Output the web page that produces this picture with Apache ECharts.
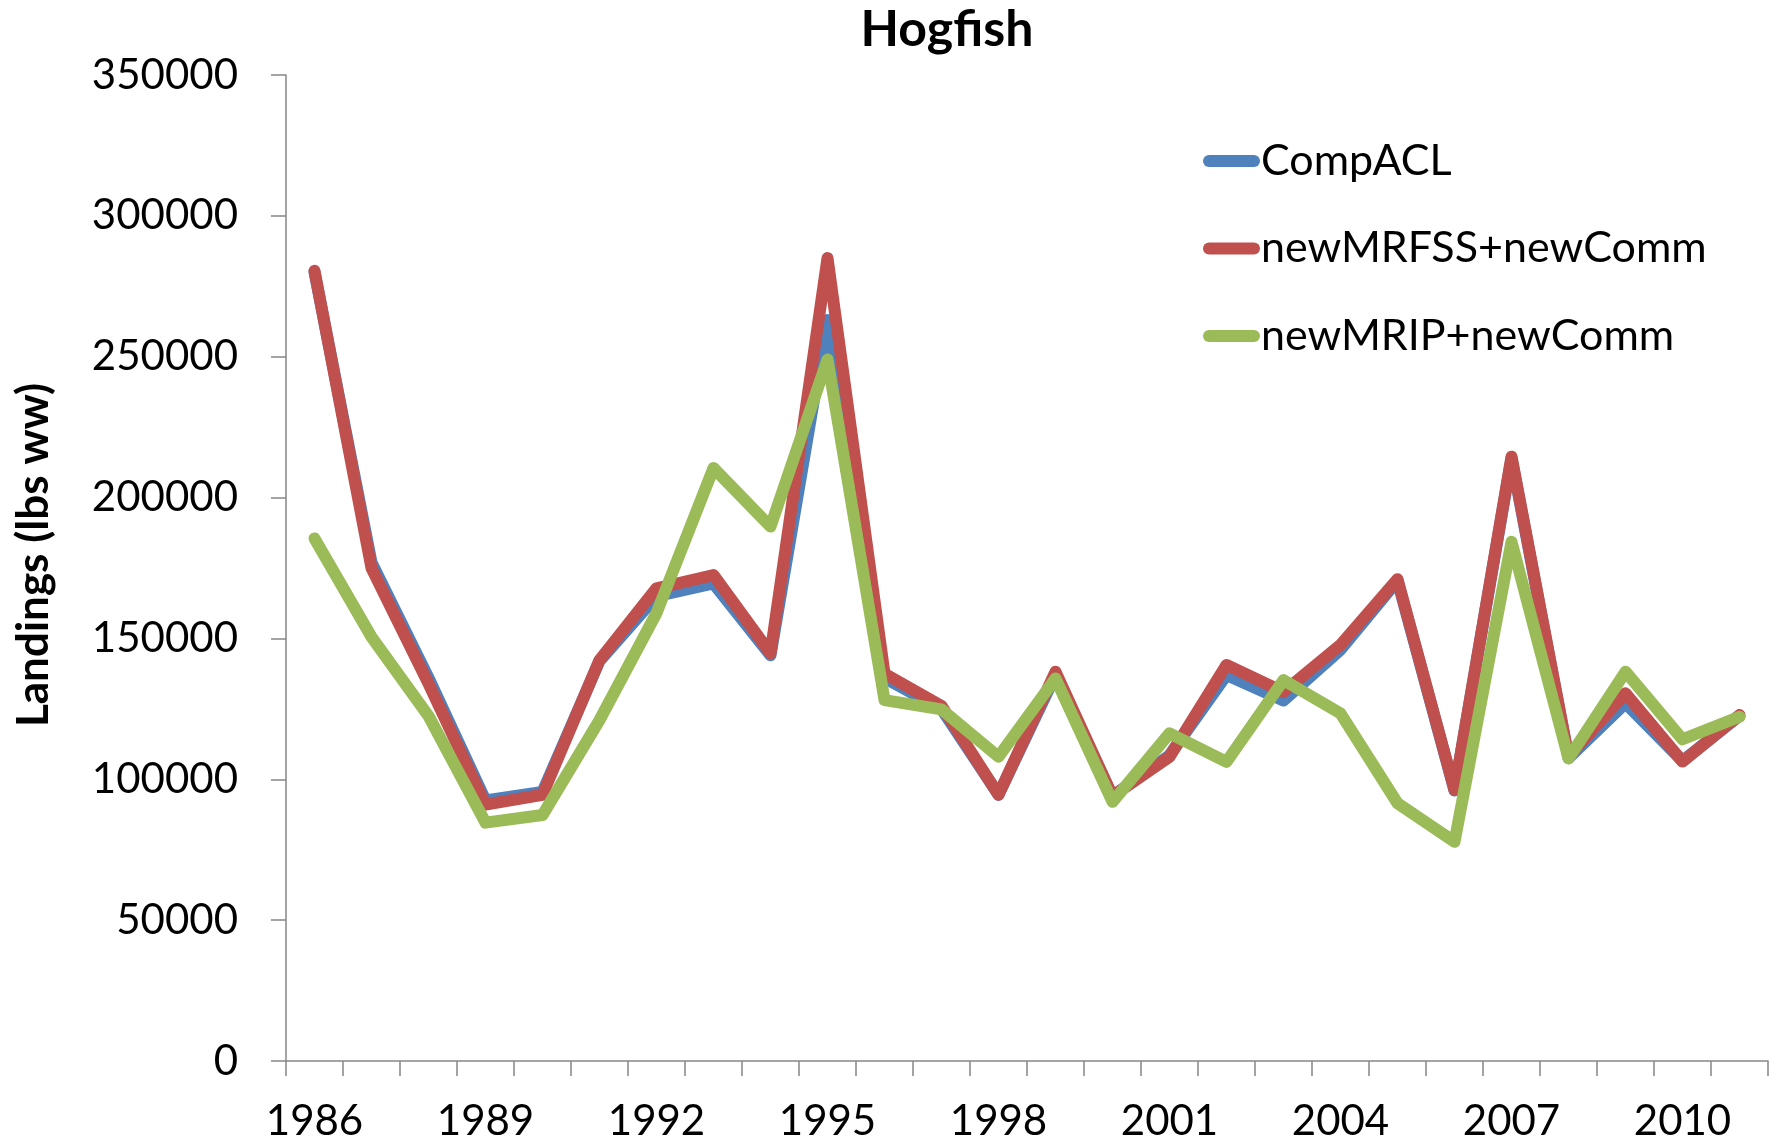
<!DOCTYPE html>
<html>
<head>
<meta charset="utf-8">
<title>Hogfish</title>
<script src="https://cdn.jsdelivr.net/npm/echarts@6/dist/echarts.min.js"></script>
<style>
  html, body { margin: 0; padding: 0; background: #fff; }
  #chart { width: 1781px; height: 1144px; }
</style>
</head>
<body>
<div id="chart"></div>
<script>
// Years on the category axis
const years = ['1986','1987','1988','1989','1990','1991','1992','1993','1994','1995','1996','1997','1998',
               '1999','2000','2001','2002','2003','2004','2005','2006','2007','2008','2009','2010','2011'];

// Landings (lbs whole weight) per series
const compACL = [280000,177000,136000,92500,95500,142000,165000,169500,144000,263000,136000,125000,94500,
                 137000,94000,108500,137000,128000,146000,170500,96000,214000,107500,127000,106500,122500];
const newMRFSS = [280500,175000,134000,91000,94500,142300,167800,172500,144700,285000,137500,126000,94500,
                  138200,94000,108000,140600,131000,147700,171000,96200,214500,108000,130500,106300,122800];
const newMRIP = [185500,150500,122500,84600,87300,121000,159000,210500,189700,249000,128100,124800,108000,
                 135800,92000,116300,106200,135200,123400,91500,77800,184300,107400,138200,114200,122200];

// Y axis range and step
const yMin = 0, yMax = 350000, yStep = 50000;

const seriesNames = ['CompACL', 'newMRFSS+newComm', 'newMRIP+newComm'];
const seriesColors = ['#4F81BD', '#C0504D', '#9BBB59'];
const seriesData = [compACL, newMRFSS, newMRIP];

const FONT = 'Lato';
const axisGray = '#868686';

const chart = echarts.init(document.getElementById('chart'), null, { renderer: 'canvas' });

const option = {
  backgroundColor: '#ffffff',
  animation: false,
  textStyle: { fontFamily: FONT },
  grid: { left: 286, right: 13, top: 75, bottom: 83, containLabel: false },
  legend: {
    orient: 'vertical',
    left: 1198,
    top: 131,
    itemWidth: 57,
    itemHeight: 12,
    itemGap: 37.5,
    icon: 'path://M6,0 L51,0 A6,6 0 0 1 51,12 L6,12 A6,6 0 0 1 6,0 Z',
    textStyle: { fontFamily: FONT, fontSize: 43, color: '#000', lineHeight: 50, padding: [0, 0, 0, -4] },
    data: seriesNames
  },
  graphic: [
    {
      type: 'text',
      x: 947, y: 30,
      style: {
        text: 'Hogfish',
        fontFamily: FONT, fontSize: 50, fontWeight: 'bold', fill: '#000',
        align: 'center', verticalAlign: 'middle'
      }
    },
    {
      type: 'text',
      x: 34, y: 555,
      rotation: Math.PI / 2,
      style: {
        text: 'Landings (lbs ww)',
        fontFamily: FONT, fontSize: 44, fontWeight: 'bold', fill: '#000',
        align: 'center', verticalAlign: 'middle'
      }
    }
  ],
  xAxis: {
    type: 'category',
    data: years,
    boundaryGap: true,
    axisLine: { show: true, lineStyle: { color: axisGray, width: 1.5 } },
    axisTick: { show: true, inside: false, length: 15, interval: 0, alignWithLabel: false,
                lineStyle: { color: axisGray, width: 1.5 } },
    axisLabel: { interval: 2, margin: 39, fontFamily: FONT, fontSize: 42, color: '#000' },
    splitLine: { show: false }
  },
  yAxis: {
    type: 'value',
    min: yMin, max: yMax, interval: yStep,
    axisLine: { show: true, lineStyle: { color: axisGray, width: 1.5 } },
    axisTick: { show: true, inside: false, length: 15, lineStyle: { color: axisGray, width: 1.5 } },
    axisLabel: { margin: 48, fontFamily: FONT, fontSize: 42, color: '#000',
                 formatter: (v) => String(v) },
    splitLine: { show: false }
  },
  series: seriesNames.map((name, i) => ({
    name: name,
    type: 'line',
    data: seriesData[i],
    showSymbol: false,
    symbol: 'none',
    color: seriesColors[i],
    lineStyle: { color: seriesColors[i], width: 12, cap: 'round', join: 'round' },
    z: 2 + i
  }))
};

chart.setOption(option);
</script>
</body>
</html>
